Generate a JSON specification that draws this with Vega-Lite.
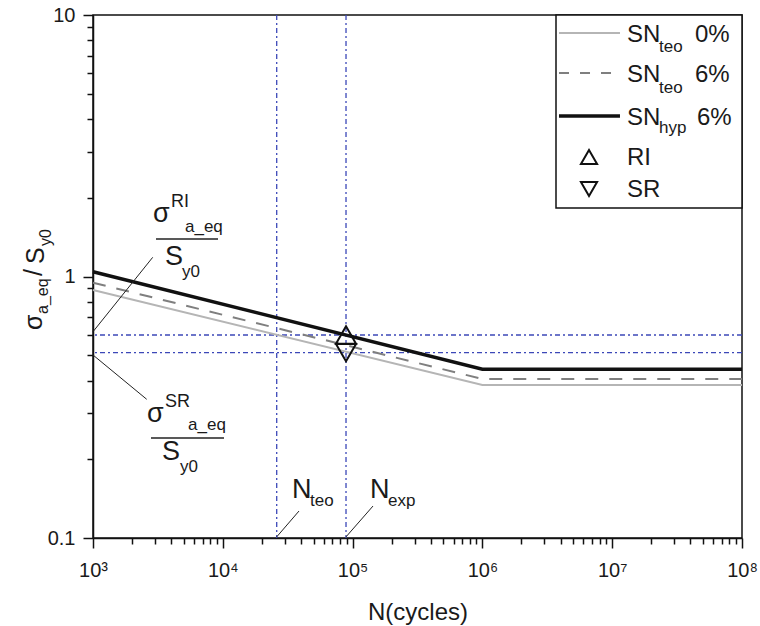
{
  "$schema": "https://vega.github.io/schema/vega-lite/v6.json",
  "width": 649,
  "height": 523,
  "autosize": {"type": "none"},
  "padding": {"left": 93, "top": 15, "right": 18, "bottom": 88},
  "background": "white",
  "datasets": {
    "sn": [
      {"series": "SN_teo 0%", "n": 1000, "s": 0.888},
      {"series": "SN_teo 0%", "n": 1000000, "s": 0.3847},
      {"series": "SN_teo 0%", "n": 100000000, "s": 0.3847},
      {"series": "SN_teo 6%", "n": 1000, "s": 0.947},
      {"series": "SN_teo 6%", "n": 1000000, "s": 0.4055},
      {"series": "SN_teo 6%", "n": 100000000, "s": 0.4055},
      {"series": "SN_hyp 6%", "n": 1000, "s": 1.043},
      {"series": "SN_hyp 6%", "n": 1000000, "s": 0.4417},
      {"series": "SN_hyp 6%", "n": 100000000, "s": 0.4417}
    ],
    "exp": [
      {"method": "RI", "n": 88970, "s": 0.5975},
      {"method": "SR", "n": 88970, "s": 0.5112}
    ],
    "hlines": [{"s": 0.5975}, {"s": 0.5112}],
    "vlines": [{"n": 26020}, {"n": 88970}],
    "leaders": [
      {"n": 1000, "s": 0.615, "n2": 2884, "s2": 1.184},
      {"n": 1000, "s": 0.501, "n2": 2593, "s2": 0.3392},
      {"n": 26020, "s": 0.101, "n2": 38640, "s2": 0.1268},
      {"n": 88970, "s": 0.101, "n2": 143600, "s2": 0.1325}
    ],
    "bars": [
      {"n": 3058, "n2": 9184, "s": 1.391},
      {"n": 2798, "n2": 10214, "s": 0.2412}
    ],
    "big": [
      {"t": "σ", "n": 2899, "s": 1.616},
      {"t": "S", "n": 3586, "s": 1.106},
      {"t": "σ", "n": 2606, "s": 0.2778},
      {"t": "S", "n": 3401, "s": 0.1987},
      {"t": "N", "n": 34130, "s": 0.1422},
      {"t": "N", "n": 136200, "s": 0.1422}
    ],
    "sup": [
      {"t": "RI", "n": 3990, "s": 1.844},
      {"t": "SR", "n": 3586, "s": 0.317}
    ],
    "sub": [
      {"t": "a_eq", "n": 5115, "s": 1.48},
      {"t": "y0", "n": 4851, "s": 0.9956},
      {"t": "a_eq", "n": 5395, "s": 0.2588},
      {"t": "y0", "n": 4681, "s": 0.1788},
      {"t": "teo", "n": 46960, "s": 0.1325},
      {"t": "exp", "n": 187300, "s": 0.1325}
    ],
    "legMain": [
      {"t": "SN", "n": 13000000, "s": 7.883},
      {"t": "0%", "n": 43440000, "s": 7.883},
      {"t": "SN", "n": 13000000, "s": 5.543},
      {"t": "6%", "n": 43440000, "s": 5.543},
      {"t": "SN", "n": 13000000, "s": 3.796},
      {"t": "6%", "n": 45010000, "s": 3.796},
      {"t": "RI", "n": 13000000, "s": 2.669},
      {"t": "SR", "n": 13000000, "s": 2.014}
    ],
    "legSub": [
      {"t": "teo", "n": 22940000, "s": 7.22},
      {"t": "teo", "n": 22940000, "s": 5.031},
      {"t": "hyp", "n": 22940000, "s": 3.538}
    ],
    "legPts": [
      {"method": "RI", "n": 6627000, "s": 2.864},
      {"method": "SR", "n": 6627000, "s": 2.161}
    ],
    "ytBig": [
      {"t": "σ", "n": 404.6, "s": 0.6243},
      {"t": "/", "n": 404.6, "s": 1.0044},
      {"t": "S", "n": 419.3, "s": 1.1164}
    ],
    "ytSub": [
      {"t": "a_eq", "n": 450.1, "s": 0.7187},
      {"t": "y0", "n": 474.8, "s": 1.308}
    ]
  },
  "layer": [
    {
      "layer": [
        {
          "data": {"name": "hlines"},
          "mark": {"type": "rule", "color": "#3c48b8", "strokeWidth": 1.3, "strokeDash": [5, 3, 2, 3]},
          "encoding": {"y": {"field": "s", "type": "quantitative"}}
        },
        {
          "data": {"name": "vlines"},
          "mark": {"type": "rule", "color": "#3c48b8", "strokeWidth": 1.3, "strokeDash": [5, 3, 2, 3]},
          "encoding": {"x": {"field": "n", "type": "quantitative"}}
        },
        {
          "data": {"name": "sn"},
          "transform": [{"filter": "datum.series === 'SN_teo 0%'"}],
          "mark": {"type": "line", "color": "#b5b5b5", "strokeWidth": 2},
          "encoding": {
            "x": {
              "field": "n", "type": "quantitative",
              "scale": {"type": "log", "domain": [1000, 100000000], "nice": false},
              "axis": {
                "values": [1000, 10000, 100000, 1000000, 10000000, 100000000],
                "tickSize": 10, "labelPadding": 12, "labelFlush": false, "labelOverlap": false,
                "labelExpr": "'10' + ['³','⁴','⁵','⁶','⁷','⁸'][round(log(datum.value)/LN10) - 3]",
                "title": "N(cycles)", "titleFontSize": 24, "titleFontWeight": "normal",
                "titleBaseline": "alphabetic", "titleY": 81, "titleColor": "#1a1a1a"
              }
            },
            "y": {
              "field": "s", "type": "quantitative",
              "scale": {"type": "log", "domain": [0.1, 10], "nice": false},
              "axis": {
                "values": [0.1, 1, 10],
                "tickSize": 10, "labelPadding": 8, "labelFlush": false, "labelOverlap": false,
                "labelExpr": "datum.value < 0.5 ? '0.1' : datum.value < 5 ? '1' : '10'",
                "title": null
              }
            },
            "order": {"field": "n", "type": "quantitative"}
          }
        },
        {
          "data": {"name": "sn"},
          "transform": [{"filter": "datum.series === 'SN_teo 6%'"}],
          "mark": {"type": "line", "color": "#7f7f7f", "strokeWidth": 2, "strokeDash": [13, 11]},
          "encoding": {
            "x": {"field": "n", "type": "quantitative"},
            "y": {"field": "s", "type": "quantitative"},
            "order": {"field": "n", "type": "quantitative"}
          }
        },
        {
          "data": {"name": "sn"},
          "transform": [{"filter": "datum.series === 'SN_hyp 6%'"}],
          "mark": {"type": "line", "color": "#111111", "strokeWidth": 3.5},
          "encoding": {
            "x": {"field": "n", "type": "quantitative"},
            "y": {"field": "s", "type": "quantitative"},
            "order": {"field": "n", "type": "quantitative"}
          }
        },
        {
          "data": {"name": "leaders"},
          "mark": {"type": "rule", "color": "#222222", "strokeWidth": 1},
          "encoding": {
            "x": {"field": "n", "type": "quantitative"},
            "y": {"field": "s", "type": "quantitative"},
            "x2": {"field": "n2"},
            "y2": {"field": "s2"}
          }
        },
        {
          "data": {"name": "bars"},
          "mark": {"type": "rule", "color": "#222222", "strokeWidth": 1.5},
          "encoding": {
            "x": {"field": "n", "type": "quantitative"},
            "x2": {"field": "n2"},
            "y": {"field": "s", "type": "quantitative"}
          }
        },
        {
          "data": {"name": "big"},
          "mark": {"type": "text", "fontSize": 27},
          "encoding": {
            "x": {"field": "n", "type": "quantitative"},
            "y": {"field": "s", "type": "quantitative"},
            "text": {"field": "t"}
          }
        },
        {
          "data": {"name": "sup"},
          "mark": {"type": "text", "fontSize": 18},
          "encoding": {
            "x": {"field": "n", "type": "quantitative"},
            "y": {"field": "s", "type": "quantitative"},
            "text": {"field": "t"}
          }
        },
        {
          "data": {"name": "sub"},
          "mark": {"type": "text", "fontSize": 17},
          "encoding": {
            "x": {"field": "n", "type": "quantitative"},
            "y": {"field": "s", "type": "quantitative"},
            "text": {"field": "t"}
          }
        },
        {
          "data": {"name": "ytBig"},
          "mark": {"type": "text", "fontSize": 25, "angle": 270},
          "encoding": {
            "x": {"field": "n", "type": "quantitative"},
            "y": {"field": "s", "type": "quantitative"},
            "text": {"field": "t"}
          }
        },
        {
          "data": {"name": "ytSub"},
          "mark": {"type": "text", "fontSize": 16, "angle": 270},
          "encoding": {
            "x": {"field": "n", "type": "quantitative"},
            "y": {"field": "s", "type": "quantitative"},
            "text": {"field": "t"}
          }
        },
        {
          "data": {"values": [{}]},
          "mark": {"type": "rect", "fill": "white", "stroke": "#111111", "strokeWidth": 1.5},
          "encoding": {
            "x": {"datum": 3690000}, "x2": {"datum": 100000000},
            "y": {"datum": 1.828}, "y2": {"datum": 10}
          }
        },
        {
          "data": {"values": [{}]},
          "mark": {"type": "rule", "color": "#b5b5b5", "strokeWidth": 2},
          "encoding": {"x": {"datum": 3892000}, "x2": {"datum": 11480000}, "y": {"datum": 8.535}}
        },
        {
          "data": {"values": [{}]},
          "mark": {"type": "rule", "color": "#7f7f7f", "strokeWidth": 2, "strokeDash": [10, 11]},
          "encoding": {"x": {"datum": 3892000}, "x2": {"datum": 11480000}, "y": {"datum": 6.001}}
        },
        {
          "data": {"values": [{}]},
          "mark": {"type": "rule", "color": "#111111", "strokeWidth": 3.5},
          "encoding": {"x": {"datum": 3892000}, "x2": {"datum": 11480000}, "y": {"datum": 4.11}}
        },
        {
          "data": {"name": "legPts"},
          "mark": {"type": "point", "filled": false, "size": 260, "strokeWidth": 2, "color": "#111111", "opacity": 1},
          "encoding": {
            "x": {"field": "n", "type": "quantitative"},
            "y": {"field": "s", "type": "quantitative"},
            "shape": {"field": "method", "type": "nominal", "scale": {"domain": ["RI", "SR"], "range": ["triangle-up", "triangle-down"]}, "legend": null}
          }
        },
        {
          "data": {"name": "legMain"},
          "mark": {"type": "text", "fontSize": 24},
          "encoding": {
            "x": {"field": "n", "type": "quantitative"},
            "y": {"field": "s", "type": "quantitative"},
            "text": {"field": "t"}
          }
        },
        {
          "data": {"name": "legSub"},
          "mark": {"type": "text", "fontSize": 17},
          "encoding": {
            "x": {"field": "n", "type": "quantitative"},
            "y": {"field": "s", "type": "quantitative"},
            "text": {"field": "t"}
          }
        }
      ]
    },
    {
      "data": {"name": "exp"},
      "mark": {"type": "point", "filled": false, "size": 400, "strokeWidth": 2, "color": "#111111", "opacity": 1},
      "encoding": {
        "x": {
          "field": "n", "type": "quantitative",
          "axis": {
            "orient": "bottom", "title": null, "labels": false, "domain": false, "tickSize": 6,
            "values": [2000, 3000, 4000, 5000, 6000, 7000, 8000, 9000, 20000, 30000, 40000, 50000, 60000, 70000, 80000, 90000, 200000, 300000, 400000, 500000, 600000, 700000, 800000, 900000, 2000000, 3000000, 4000000, 5000000, 6000000, 7000000, 8000000, 9000000, 20000000, 30000000, 40000000, 50000000, 60000000, 70000000, 80000000, 90000000]
          }
        },
        "y": {
          "field": "s", "type": "quantitative",
          "axis": {
            "orient": "left", "title": null, "labels": false, "domain": false, "tickSize": 6,
            "values": [0.2, 0.3, 0.4, 0.5, 0.6, 0.7, 0.8, 0.9, 2, 3, 4, 5, 6, 7, 8, 9]
          }
        },
        "shape": {"field": "method", "type": "nominal", "scale": {"domain": ["RI", "SR"], "range": ["triangle-up", "triangle-down"]}, "legend": null}
      }
    }
  ],
  "resolve": {"axis": {"x": "independent", "y": "independent"}},
  "config": {
    "view": {"stroke": "#111111", "strokeWidth": 1.5},
    "axis": {
      "grid": false,
      "domainColor": "#111111", "domainWidth": 1.5,
      "tickColor": "#111111", "tickWidth": 1.5,
      "labelFont": "Liberation Sans", "labelFontSize": 20, "labelColor": "#1a1a1a",
      "titleFont": "Liberation Sans"
    },
    "text": {"font": "Liberation Sans", "color": "#1a1a1a", "align": "left", "baseline": "alphabetic"}
  }
}
